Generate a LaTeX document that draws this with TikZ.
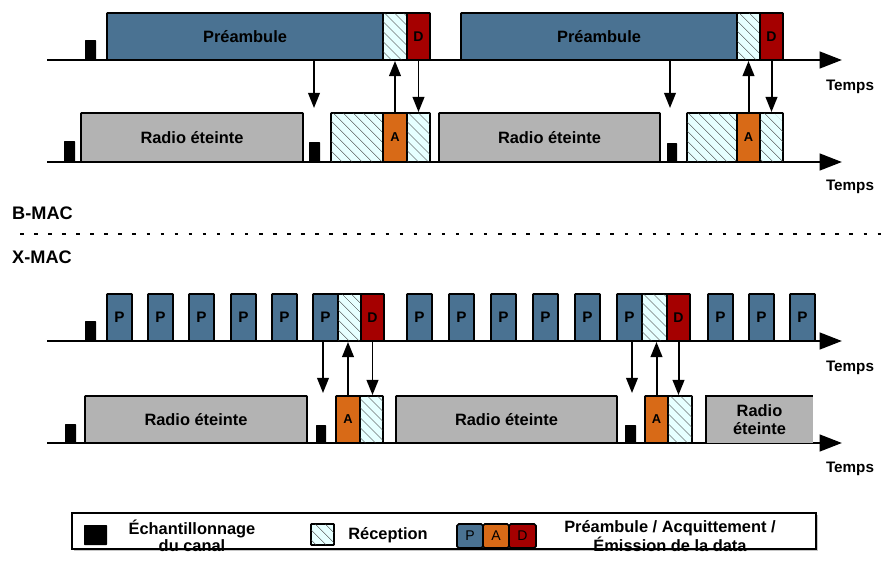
\documentclass[tikz,border=0pt]{standalone}
\usepackage{fontspec}
\setmainfont{Liberation Sans}
\usetikzlibrary{arrows.meta,patterns.meta,shadows}
\definecolor{preblue}{HTML}{4A7292}
\definecolor{datared}{HTML}{A50000}
\definecolor{ackorange}{HTML}{D86A17}
\definecolor{offgray}{HTML}{B3B3B3}
\definecolor{rxcyan}{HTML}{E6FFFF}
\newcommand\putslot[5]{\node[#1,minimum width={(#4-#2)*0.03cm},minimum height={(#5-#3)*0.03cm},anchor=center] at ({(#2+#4)/2},{(#3+#5)/2})}

\begin{document}
\begin{tikzpicture}[x=0.03cm,y=-0.03cm,
every node/.style={font=\bfseries\fontsize{14}{15}\selectfont},
slotbox/.style={draw,line width=1.6pt,inner sep=0pt,rounded corners=0.6pt},
pre/.style={slotbox,fill=preblue},
pkt/.style={pre,font=\bfseries\fontsize{13}{15}\selectfont},
dat/.style={slotbox,fill=datared,font=\bfseries\fontsize{12}{14}\selectfont},
ack/.style={slotbox,fill=ackorange,font=\bfseries\fontsize{11}{13}\selectfont},
off/.style={slotbox,fill=offgray},
offopen/.style={fill=offgray,inner sep=0pt,align=center},
rx/.style={slotbox,fill=rxcyan,postaction={pattern={Lines[angle=-45,distance=6.5pt,line width=0.5pt]},pattern color=black!75}},
smp/.style={fill=black,inner sep=0pt,rounded corners=0.5pt},
pad/.style={slotbox,line width=1.4pt,rounded corners=1.5pt,font=\fontsize{12}{14}\selectfont},
tlabel/.style={font=\bfseries\fontsize{13}{15}\selectfont},
maclabel/.style={anchor=west,inner sep=0pt,font=\bfseries\fontsize{15.5}{17}\selectfont},
axis/.style={line width=2.5pt,-{Triangle[length=19pt,width=14pt]}},
msg/.style={line width=1.7pt,-{Triangle[length=13pt,width=10pt]}}]
\useasboundingbox (0,0) rectangle (884,561);

\coordinate (t1a) at (47,60); \coordinate (t1b) at (842,60);
\coordinate (t2a) at (47,162); \coordinate (t2b) at (842,162);
\coordinate (t3a) at (47,341); \coordinate (t3b) at (842,341);
\coordinate (t4a) at (47,443); \coordinate (t4b) at (842,443);
\foreach \t in {1,...,4} \draw[axis] (t\t a) -- (t\t b);
\node[tlabel] (tm1) at (850,87) {Temps};
\node[tlabel] (tm2) at (850,187) {Temps};
\node[tlabel] (tm3) at (850,368) {Temps};
\node[tlabel] (tm4) at (850,469) {Temps};

% B-MAC
\putslot{smp}{85}{40}{96}{60} (s1) {};
\putslot{pre}{107}{13}{383}{60} (pr1) {Préambule};
\putslot{rx}{383}{13}{407}{60} (h1) {};
\putslot{dat}{407}{13}{430}{60} (d1) {D};
\putslot{pre}{461}{13}{737}{60} (pr2) {Préambule};
\putslot{rx}{737}{13}{760}{60} (h2) {};
\putslot{dat}{760}{13}{783}{60} (d2) {D};

\putslot{smp}{64}{141}{75}{162} (s2) {};
\putslot{off}{81}{113}{303}{162} (r1) {Radio éteinte};
\putslot{smp}{309}{142}{320}{162} (s3) {};
\putslot{rx}{331}{113}{383}{162} (h3) {};
\putslot{ack}{383}{113}{407}{162} (k1) {A};
\putslot{rx}{407}{113}{430}{162} (h4) {};
\putslot{off}{439}{113}{660}{162} (r2) {Radio éteinte};
\putslot{smp}{667}{143}{677}{162} (s4) {};
\putslot{rx}{687}{113}{737}{162} (h5) {};
\putslot{ack}{737}{113}{760}{162} (k2) {A};
\putslot{rx}{760}{113}{783}{162} (h6) {};

\coordinate (w1) at (314,108); \coordinate (w2) at (670,108);
\draw[msg] (pr1.south -| w1) -- (w1);
\draw[msg] (k1.north) -- (h1.south);
\draw[msg] (d1.south) -- (h4.north);
\draw[msg] (pr2.south -| w2) -- (w2);
\draw[msg] (k2.north) -- (h2.south);
\draw[msg] (d2.south) -- (h6.north);

\node[maclabel] (bmac) at (12,213) {B-MAC};
\node[maclabel] (xmac) at (12,257) {X-MAC};
\coordinate (dl) at (20,234); \coordinate (dr) at (884,234);
\draw[line width=1.7pt,dash pattern=on 3pt off 9pt] (dl) -- (dr);

% X-MAC
\putslot{smp}{85}{321}{96}{341} (s5) {};
\foreach \x [count=\i] in {107,148,189,231,272,313}
  {\putslot{pkt}{\x}{294}{\x+25}{341} (p\i) {P};}
\putslot{rx}{338}{294}{361}{341} (h7) {};
\putslot{dat}{361}{294}{384}{341} (d3) {D};
\foreach \x [count=\i from 7] in {407,449,491,533,575,617}
  {\putslot{pkt}{\x}{294}{\x+25}{341} (p\i) {P};}
\putslot{rx}{642}{294}{667}{341} (h8) {};
\putslot{dat}{667}{294}{690}{341} (d4) {D};
\foreach \x [count=\i from 13] in {708,749,790}
  {\putslot{pkt}{\x}{294}{\x+25}{341} (p\i) {P};}

\putslot{smp}{65}{424}{76}{443} (s6) {};
\putslot{off}{85}{396}{307}{443} (r3) {Radio éteinte};
\putslot{smp}{316}{425}{326}{443} (s7) {};
\putslot{ack}{336}{396}{360}{443} (k3) {A};
\putslot{rx}{360}{396}{383}{443} (h9) {};
\putslot{off}{396}{396}{617}{443} (r4) {Radio éteinte};
\putslot{smp}{625}{425}{636}{443} (s8) {};
\putslot{ack}{645}{396}{668}{443} (k4) {A};
\putslot{rx}{668}{396}{692}{443} (h10) {};
\putslot{offopen}{706}{396}{813}{443} (r5) {Radio\\éteinte};
\draw[line width=1.6pt] (r5.south west) |- (r5.north east);

\coordinate (w3) at (323,393); \coordinate (w4) at (632,393);
\draw[msg] (p6.south -| w3) -- (w3);
\draw[msg] (k3.north) -- (k3.north |- h7.south);
\draw[msg] (d3.south) -- (d3.south |- h9.north);
\draw[msg] (p12.south -| w4) -- (w4);
\draw[msg] (k4.north) -- (k4.north |- h8.south);
\draw[msg] (d4.south) -- (d4.south |- h10.north);

% legende
\putslot{draw,line width=1pt,fill=white,inner sep=0pt,drop shadow={shadow xshift=2pt,shadow yshift=-2pt,opacity=0.45}}{72}{513}{816}{549} (leg) {};
\putslot{smp}{84}{525}{107}{545} (ls) {};
\node[align=center] (lt1) at (192,536) {Échantillonnage\\du canal};
\putslot{rx}{311}{524}{334}{545} (lr) {};
\node (lt2) at (388,535) {Réception};
\putslot{pad,fill=preblue}{457}{524}{483}{548} (lp) {P};
\putslot{pad,fill=ackorange}{483}{524}{509}{548} (la) {A};
\putslot{pad,fill=datared}{509}{524}{536}{548} (ld) {D};
\node[align=center] (lt3) at (670,536) {Préambule / Acquittement /\\Émission de la data};
\end{tikzpicture}
\end{document}
